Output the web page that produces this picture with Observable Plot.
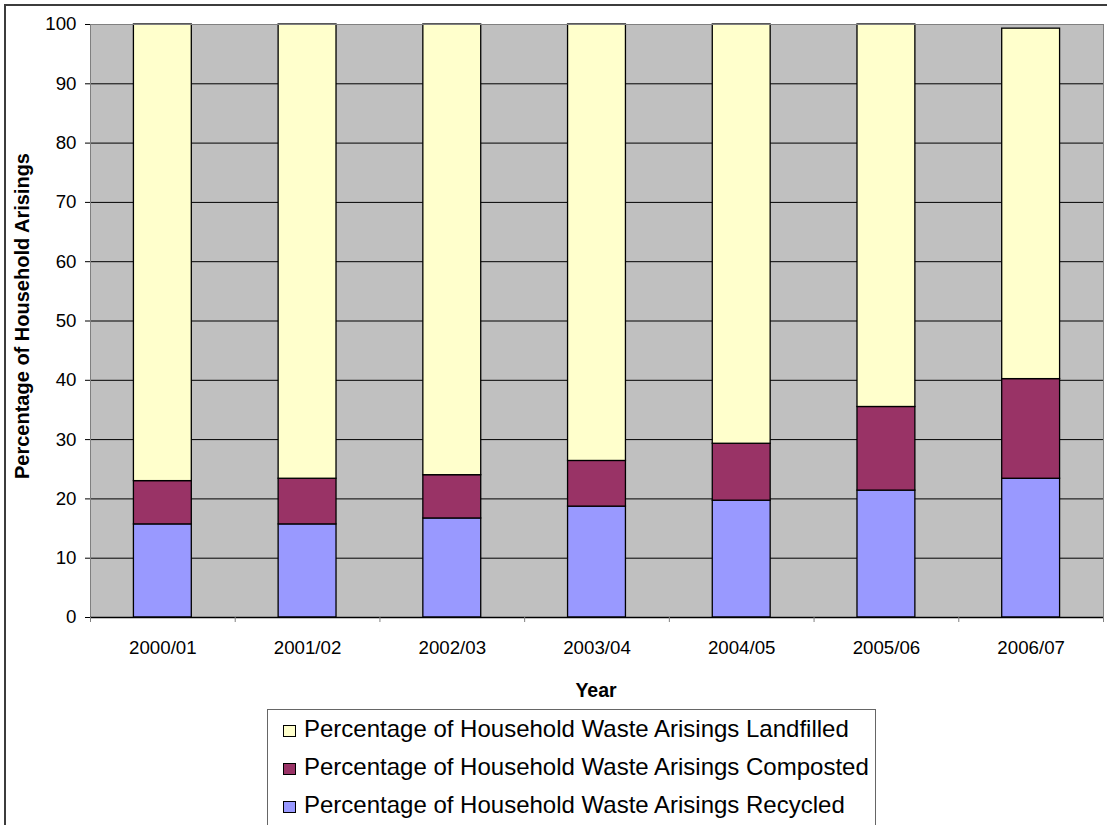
<!DOCTYPE html>
<html>
<head>
<meta charset="utf-8">
<script src="https://cdn.jsdelivr.net/npm/d3@7"></script>
<script src="https://cdn.jsdelivr.net/npm/@observablehq/plot@0.6"></script>
<style>
  body { margin: 0; background: #fff; font-family: "Liberation Sans", Arial, sans-serif; overflow: hidden; }
  #wrap { position: relative; width: 1107px; height: 825px; overflow: hidden; }
  #outer { position: absolute; left: 4px; top: 4px; width: 1200px; height: 1000px; border: 2px solid #3c3c3c; box-sizing: border-box; }
  #chart { position: absolute; left: 0; top: 0; }
  #ytitle { position: absolute; left: 22px; top: 316px; transform: translate(-50%, -50%) rotate(-90deg); font-weight: bold; font-size: 20px; line-height: 1; white-space: nowrap; color: #000; }
  #xtitle { position: absolute; left: 596px; top: 681px; transform: translateX(-50%); font-weight: bold; font-size: 19.5px; line-height: 1; white-space: nowrap; color: #000; }
  #legend { position: absolute; left: 267px; top: 709px; width: 609px; height: 200px; border: 1px solid #666; box-sizing: border-box; padding-left: 15px; background: #fff; }
  .row { height: 37.8px; line-height: 37.8px; font-size: 24px; white-space: nowrap; color: #000; }
  .sw { display: inline-block; width: 11px; height: 10px; border: 1px solid #000; margin-right: 8px; }
</style>
</head>
<body>
<div id="wrap">
  <div id="outer"></div>
  <div id="chart"></div>
  <div id="ytitle">Percentage of Household Arisings</div>
  <div id="xtitle">Year</div>
  <div id="legend"></div>
</div>
<script>
// ---- data ----
const years = ["2000/01", "2001/02", "2002/03", "2003/04", "2004/05", "2005/06", "2006/07"];
const recycled   = [15.7, 15.7, 16.7, 18.7, 19.7, 21.4, 23.4];
const composted  = [7.3, 7.7, 7.3, 7.7, 9.6, 14.1, 16.8];
const landfilled = [77.0, 76.6, 76.0, 73.6, 70.7, 64.5, 59.1];
const seriesNames = [
  "Percentage of Household Waste Arisings Recycled",
  "Percentage of Household Waste Arisings Composted",
  "Percentage of Household Waste Arisings Landfilled"
];
const seriesColors = ["#9999FF", "#993366", "#FFFFCC"];
const yTicks = [0, 10, 20, 30, 40, 50, 60, 70, 80, 90, 100];
const legendOrder = [2, 1, 0];

// ---- tidy rows ----
const seriesValues = [recycled, composted, landfilled];
const rows = years.flatMap((yr, i) =>
  seriesNames.map((s, k) => ({year: yr, series: s, value: seriesValues[k][i]}))
);

// ---- layout ----
const W = 1107, H = 705, mL = 90, mR = 4, mT = 24, mB = 88;
const step = (W - mL - mR) / years.length;

const chart = Plot.plot({
  width: W, height: H,
  marginLeft: mL, marginRight: mR, marginTop: mT, marginBottom: mB,
  style: {fontFamily: "'Liberation Sans', Arial, sans-serif", background: "transparent", color: "#000"},
  x: {domain: years, paddingInner: 0.6, paddingOuter: 0.3, round: false, label: null},
  y: {domain: [0, 100], label: null},
  color: {domain: seriesNames, range: seriesColors},
  marks: [
    Plot.frame({fill: "#C0C0C0", stroke: "none"}),
    Plot.ruleY(yTicks, {stroke: "#000", strokeWidth: 1}),
    Plot.barY(rows, {x: "year", y: "value", fill: "series", stroke: "#000", strokeWidth: 1.3}),
    Plot.frame({stroke: "#808080", strokeWidth: 1}),
    Plot.ruleY([0], {stroke: "#000", strokeWidth: 1.3}),
    Plot.axisY({ticks: yTicks, tickSize: 5, tickPadding: 9, fontSize: 18.7, label: null, stroke: "#000"}),
    Plot.axisX({tickSize: 0, tickPadding: 23, fontSize: 18.7, label: null}),
    Plot.axisX({tickSize: 5, fill: "none", label: null, dx: -step / 2, stroke: "#808080"}),
    Plot.axisX({ticks: [years[years.length - 1]], tickSize: 5, fill: "none", label: null, dx: step / 2, stroke: "#808080"})
  ]
});
document.getElementById("chart").appendChild(chart);

// ---- legend ----
const legend = document.getElementById("legend");
for (const k of legendOrder) {
  const row = document.createElement("div");
  row.className = "row";
  const sw = document.createElement("span");
  sw.className = "sw";
  sw.style.background = seriesColors[k];
  row.appendChild(sw);
  row.appendChild(document.createTextNode(seriesNames[k]));
  legend.appendChild(row);
}
</script>
</body>
</html>
